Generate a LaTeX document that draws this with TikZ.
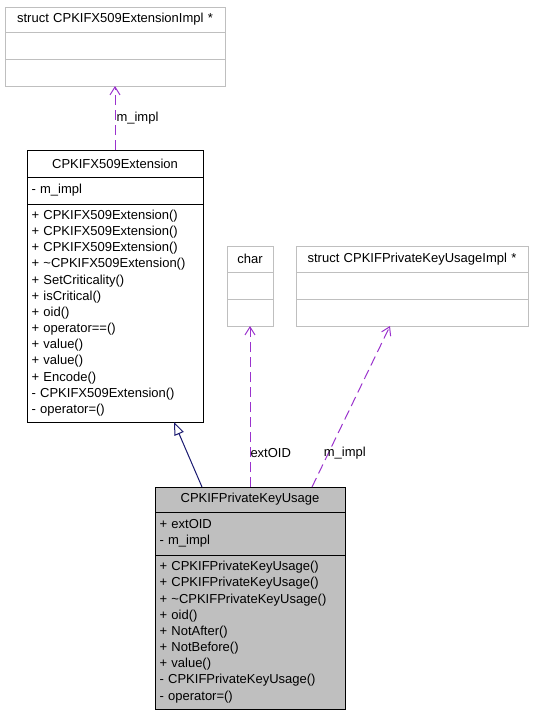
\documentclass[tikz,border=0pt]{standalone}
\usepackage{fontspec}
\setmainfont{Liberation Sans}
\usetikzlibrary{arrows.meta, positioning}
\definecolor{edgepurple}{HTML}{9A32CD}
\definecolor{edgenavy}{HTML}{191970}
\definecolor{boxgrey}{HTML}{BFBFBF}

\begin{document}
\begin{tikzpicture}[
		x=1pt, y=-1pt,
		line width=1pt,
		font=\fontsize{13}{16.17}\selectfont,
		Part/.style={
			draw, rectangle, anchor=north west, outer sep=0pt,
			inner xsep=4.5pt, inner ysep=0pt, align=left
		},
		TitlePart/.style={Part, align=center},
		GreyPart/.style={Part, draw=boxgrey},
		GreyTitle/.style={TitlePart, draw=boxgrey},
		Usage/.style={
			draw=edgepurple, dash pattern=on 10pt off 5pt,
			-{Straight Barb[length=8pt, width=10pt]}
		},
		Inherit/.style={
			draw=edgenavy,
			-{Triangle[open, length=13pt, width=10pt]}
		}
	]
	
	\useasboundingbox (0,0) rectangle (533,715);
	
	% struct CPKIFX509ExtensionImpl *
	\path
	(5,7) node [GreyTitle, minimum width=220pt, text width=211pt, minimum height=25pt] (aTitle) {struct CPKIFX509ExtensionImpl *}
	(aTitle.south west) node [GreyPart, minimum width=220pt, text width=211pt, minimum height=27pt] (aAttr) {}
	(aAttr.south west) node [GreyPart, minimum width=220pt, text width=211pt, minimum height=27pt] (aOps) {};
	
	% CPKIFX509Extension
	\path
	(27,150) node [TitlePart, minimum width=176pt, text width=167pt, minimum height=27pt] (bTitle) {CPKIFX509Extension}
	(bTitle.south west) node [Part, minimum width=176pt, text width=167pt, minimum height=27pt] (bAttr) {- m\_impl}
	(bAttr.south west) node [Part, minimum width=176pt, text width=167pt, minimum height=218pt] (bOps)
	{+ CPKIFX509Extension()\\
		+ CPKIFX509Extension()\\
		+ CPKIFX509Extension()\\
		+ \char`\~CPKIFX509Extension()\\
		+ SetCriticality()\\
		+ isCritical()\\
		+ oid()\\
		+ operator==()\\
		+ value()\\
		+ value()\\
		+ Encode()\\
		- CPKIFX509Extension()\\
		- operator=()};
	
	% char
	\path
	(227,246) node [GreyTitle, minimum width=46pt, text width=37pt, minimum height=26pt] (cTitle) {char}
	(cTitle.south west) node [GreyPart, minimum width=46pt, text width=37pt, minimum height=27pt] (cAttr) {}
	(cAttr.south west) node [GreyPart, minimum width=46pt, text width=37pt, minimum height=27pt] (cOps) {};
	
	% struct CPKIFPrivateKeyUsageImpl *
	\path
	(296,246) node [GreyTitle, minimum width=232pt, text width=223pt, minimum height=26pt] (dTitle) {struct CPKIFPrivateKeyUsageImpl *}
	(dTitle.south west) node [GreyPart, minimum width=232pt, text width=223pt, minimum height=27pt] (dAttr) {}
	(dAttr.south west) node [GreyPart, minimum width=232pt, text width=223pt, minimum height=27pt] (dOps) {};
	
	% CPKIFPrivateKeyUsage
	\path
	(155,487) node [TitlePart, fill=boxgrey, minimum width=190pt, text width=181pt, minimum height=25pt] (eTitle) {CPKIFPrivateKeyUsage}
	(eTitle.south west) node [Part, fill=boxgrey, minimum width=190pt, text width=181pt, minimum height=43pt] (eAttr)
	{+ extOID\\
		- m\_impl}
	(eAttr.south west) node [Part, fill=boxgrey, minimum width=190pt, text width=181pt, minimum height=154pt] (eOps)
	{+ CPKIFPrivateKeyUsage()\\
		+ CPKIFPrivateKeyUsage()\\
		+ \char`\~CPKIFPrivateKeyUsage()\\
		+ oid()\\
		+ NotAfter()\\
		+ NotBefore()\\
		+ value()\\
		- CPKIFPrivateKeyUsage()\\
		- operator=()};
	
	\coordinate (eImplFoot) at ([xshift=62pt]eTitle.north);
	\coordinate (dImplTip) at ([xshift=-22pt]dOps.south);
	
	\draw [Usage]
	(bTitle.north) -- (aOps.south) node [midway, anchor=west, inner sep=1pt] {m\_impl};
	
	\draw [Usage]
	(cOps.south |- eTitle.north) -- (cOps.south) node [pos=0.21, anchor=west, inner sep=0pt] {extOID};
	
	\draw [Usage]
	(eImplFoot) -- (dImplTip) node [pos=0.21, anchor=west, inner sep=0pt, xshift=-5pt] {m\_impl};
	
	\draw [Inherit]
	([xshift=-48pt]eTitle.north) -- ([xshift=59pt]bOps.south);
\end{tikzpicture}
\end{document}
